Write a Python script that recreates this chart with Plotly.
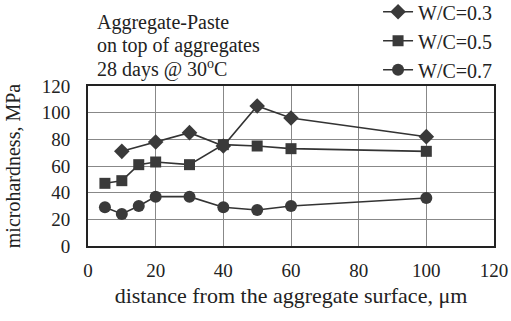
import plotly.graph_objects as go

x_03 = [10, 20, 30, 40, 50, 60, 100]
y_03 = [71, 78, 85, 75, 105, 96, 82]

x_05 = [5, 10, 15, 20, 30, 40, 50, 60, 100]
y_05 = [47, 49, 61, 63, 61, 76, 75, 73, 71]

x_07 = [5, 10, 15, 20, 30, 40, 50, 60, 100]
y_07 = [29, 24, 30, 37, 37, 29, 27, 30, 36]

series = [
    ("W/C=0.3", x_03, y_03, "diamond", 12),
    ("W/C=0.5", x_05, y_05, "square", 11),
    ("W/C=0.7", x_07, y_07, "circle", 12),
]

note_lines = ["Aggregate-Paste", "on top of aggregates", "28 days @ 30<sup>o</sup>C"]

FONT = "Liberation Serif, Times New Roman, serif"
fig = go.Figure()
for i, (name, xs, ys, sym, sz) in enumerate(series):
    fig.add_trace(go.Scatter(
        x=xs, y=ys, name=name, mode="lines+markers",
        line=dict(color="#333333", width=1.6),
        marker=dict(symbol=sym, size=sz, color="#3a3a3a"),
    ))

fig.update_layout(
    width=511, height=321,
    margin=dict(l=88, r=17, t=86, b=75, autoexpand=False),
    paper_bgcolor="white", plot_bgcolor="white",
    font=dict(family=FONT, size=19, color="#222222"),
    legend=dict(xref="paper", yref="paper",
                x=1.01, xanchor="right", y=0.98, yanchor="bottom",
                bgcolor="rgba(0,0,0,0)",
                font=dict(size=20)),
    showlegend=True,
)
fig.update_xaxes(range=[0, 120], dtick=20, showgrid=True, gridcolor="#888888", gridwidth=1,
                 showline=True, linecolor="#222222", linewidth=2, mirror=True,
                 ticks="outside", ticklen=6, tickcolor="rgba(0,0,0,0)", zeroline=False,
                 automargin=False, tickfont=dict(size=19),
                 title=dict(text="distance from the aggregate surface, \u03bcm",
                            standoff=8, font=dict(size=22)))
fig.update_yaxes(range=[0, 120], dtick=20, showgrid=True, gridcolor="#888888", gridwidth=1,
                 showline=True, linecolor="#222222", linewidth=2, mirror=True,
                 ticks="outside", ticklen=12, tickcolor="rgba(0,0,0,0)", zeroline=False,
                 automargin=False, tickfont=dict(size=19),
                 title=dict(text="microhardness, MPa", standoff=16, font=dict(size=20)))
for k, line in enumerate(note_lines):
    fig.add_annotation(
        text=line, xref="paper", yref="paper", x=0.017, y=1.0,
        yshift=64 - 23 * k, xanchor="left", yanchor="middle",
        align="left", showarrow=False, font=dict(size=20, family=FONT),
    )
fig.write_html("out.html", config={"displayModeBar": False},
               post_script="document.body.style.margin='0px';document.body.style.overflow='hidden';")
